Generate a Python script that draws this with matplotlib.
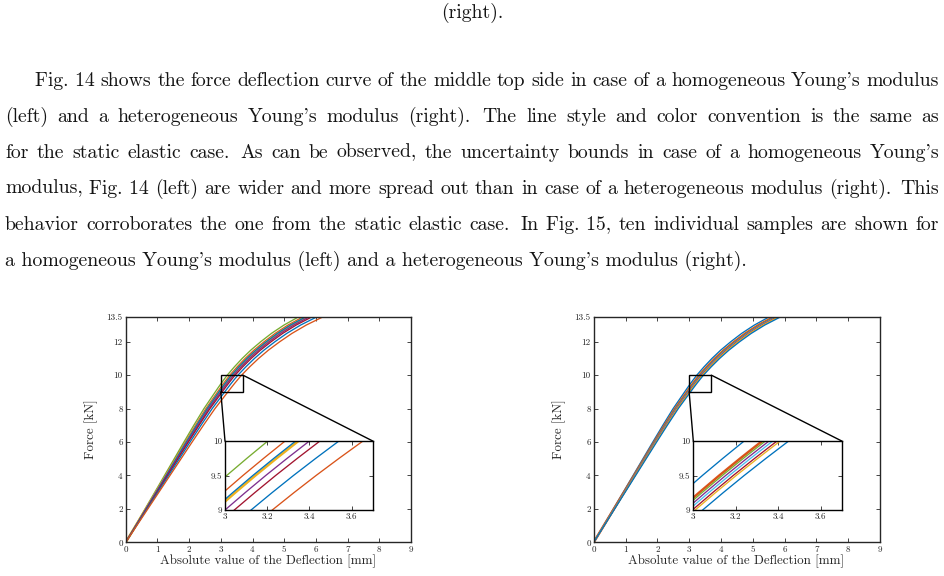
import numpy as np
import matplotlib
matplotlib.use("Agg")
import matplotlib.pyplot as plt
from matplotlib.patches import Rectangle, ConnectionPatch

plt.rcParams["font.family"] = ["cmr10", "DejaVu Serif"]
plt.rcParams["axes.formatter.use_mathtext"] = True
plt.rcParams["mathtext.fontset"] = "cm"
plt.rcParams["axes.unicode_minus"] = False

# ------------------------------------------------------------------ data
# reference force-deflection shape (middle curve)
base_force = [0, 1, 2, 3, 4, 5, 6, 7, 8, 9, 9.25, 9.5, 9.75, 10,
              10.5, 11, 11.5, 12, 12.5, 13, 13.5, 14]
base_defl = [0, 0.325, 0.65, 0.975, 1.30, 1.625, 1.95, 2.28, 2.62, 3.00,
             3.095, 3.193, 3.295, 3.40, 3.64, 3.90, 4.19, 4.52, 4.88,
             5.30, 5.80, 6.38]
base_defl_at_10 = 3.40

# deflection at 10 kN of each plotted curve
left_defl_at_10 = [3.203, 3.285, 3.348, 3.335, 3.400, 3.450, 3.540, 3.654]
left_colors = ["#77AC30", "#D95319", "#EDB120", "#0072BD",
               "#7E2F8E", "#A2142F", "#0072BD", "#D95319"]
left_thick = 2

right_defl_at_10 = [3.240, 3.325, 3.340, 3.357, 3.375, 3.395, 3.410, 3.450]
right_colors = ["#0072BD", "#D95319", "#77AC30", "#7E2F8E",
                "#4DBEEE", "#A2142F", "#EDB120", "#0072BD"]
right_thick = 1

main_xticks = [0, 1, 2, 3, 4, 5, 6, 7, 8, 9]
main_yticks = [0, 2, 4, 6, 8, 10, 12, 13.5]
zoom_xticks = [3, 3.2, 3.4, 3.6]
zoom_yticks = [9, 9.5, 10]
zoom_xlim = (3, 3.7)
zoom_ylim = (9, 10)

x_label = "Absolute value of the Deflection [mm]"
y_label = "Force [kN]"

top_line = "(right)."
paragraph_lines = [
    "Fig.~14 shows the force deflection curve of the middle top side in case of a homogeneous Young's modulus",
    "(left) and a heterogeneous Young's modulus (right).  The line style and color convention is the same as",
    "for the static elastic case.  As can be observed, the uncertainty bounds in case of a homogeneous Young's",
    "modulus, Fig.~14 (left) are wider and more spread out than in case of a heterogeneous modulus (right). This",
    "behavior corroborates the one from the static elastic case. In Fig.~15, ten individual samples are shown for",
    "a homogeneous Young's modulus (left) and a heterogeneous Young's modulus (right).",
]

# ------------------------------------------------------------------ figure
W, H = 944, 576
fig = plt.figure(figsize=(W / 100, H / 100), dpi=100)
fig.patch.set_facecolor("white")
renderer = fig.canvas.get_renderer()
TXT = "#141414"
AX = "#262626"


def fx(x):
    return x / W


def fy(y):
    return 1 - y / H


def px_rect(x0, y0, x1, y1):
    return [x0 / W, 1 - y1 / H, (x1 - x0) / W, (y1 - y0) / H]


def text_width(s, size):
    t = fig.text(0, 0, s, fontsize=size)
    w = t.get_window_extent(renderer).width
    t.remove()
    return w


tick_size = 6.0 * 16.0 / text_width("13.5", 6.0)
label_size = 8.0 * 217.0 / text_width(x_label, 8.0)
body_size = 12.0 * 743.0 / text_width(paragraph_lines[-1].replace("~", " "), 12.0)


def fmt(v):
    return ("%g" % v)


def style(ax):
    ax.tick_params(direction="in", length=2.6, width=0.6, top=True, right=True,
                   labelsize=tick_size, colors=AX, pad=2.2)
    for s in ax.spines.values():
        s.set_linewidth(1.0)
        s.set_color(AX)


panels = [
    dict(main=(125.7, 316.7, 411.0, 542.3), inset=(225.0, 441.0, 372.7, 510.0),
         defl=left_defl_at_10, colors=left_colors, thick=left_thick),
    dict(main=(593.7, 316.7, 880.0, 542.3), inset=(693.3, 441.0, 841.7, 510.0),
         defl=right_defl_at_10, colors=right_colors, thick=right_thick),
]

bf = np.array(base_force)
bd = np.array(base_defl)

for p in panels:
    ax = fig.add_axes(px_rect(*p["main"]))
    axin = fig.add_axes(px_rect(*p["inset"]))
    for a in (ax, axin):
        for i, (d, c) in enumerate(zip(p["defl"], p["colors"])):
            lw = 1.8 if i == p["thick"] else 0.95
            a.plot(bd * d / base_defl_at_10, bf, color=c, lw=lw,
                   solid_capstyle="butt")
    ax.set_xlim(0, 9)
    ax.set_ylim(0, 13.5)
    ax.set_xticks(main_xticks, [fmt(v) for v in main_xticks])
    ax.set_yticks(main_yticks, [fmt(v) for v in main_yticks])
    style(ax)
    axin.set_xlim(*zoom_xlim)
    axin.set_ylim(*zoom_ylim)
    axin.set_xticks(zoom_xticks, [fmt(v) for v in zoom_xticks])
    axin.set_yticks(zoom_yticks, [fmt(v) for v in zoom_yticks])
    style(axin)
    for s in axin.spines.values():
        s.set_color("black")

    ax.add_patch(Rectangle((zoom_xlim[0], zoom_ylim[0]),
                           zoom_xlim[1] - zoom_xlim[0], zoom_ylim[1] - zoom_ylim[0],
                           fill=False, ec="black", lw=1.0, zorder=5))
    for a_pt, b_pt in [((zoom_xlim[0], zoom_ylim[0]), (zoom_xlim[0], zoom_ylim[1])),
                       ((zoom_xlim[1], zoom_ylim[1]), (zoom_xlim[1], zoom_ylim[1]))]:
        con = ConnectionPatch(xyA=a_pt, coordsA=ax.transData,
                              xyB=b_pt, coordsB=axin.transData,
                              color="black", lw=1.0)
        fig.add_artist(con)

    x0, y0, x1, y1 = p["main"]
    fig.text(fx((x0 + x1) / 2 - 0.5), fy(561.5), x_label, fontsize=label_size,
             color=AX, ha="center", va="center")
    fig.text(fx(x0 - 34.5), fy((y0 + y1) / 2), y_label, fontsize=label_size,
             color=AX, ha="center", va="center", rotation=90)

# ------------------------------------------------------------------ text
em = body_size * 100 / 72.0
base_off = 0.28 * em

fig.text(fx(472), fy(12 + base_off), top_line, fontsize=body_size, color=TXT,
         ha="center", va="baseline")

line_centers = [80, 116, 152, 188, 224, 260]
for k, line in enumerate(paragraph_lines):
    yb = line_centers[k] + base_off
    x_left = 35.0 if k == 0 else 5.0
    if k == len(paragraph_lines) - 1:
        fig.text(fx(x_left), fy(yb), line.replace("~", " "), fontsize=body_size,
                 color=TXT, ha="left", va="baseline")
        continue
    words = [w.replace("~", " ") for w in line.split(" ") if w != ""]
    widths = [text_width(w, body_size) for w in words]
    weights = []
    for w in words[:-1]:
        weights.append(1.35 if (w.endswith(".") and not w.endswith("Fig.")) else 1.0)
    free = 939.0 - x_left - sum(widths)
    unit = free / sum(weights)
    x = x_left
    for i, w in enumerate(words):
        fig.text(fx(x), fy(yb), w, fontsize=body_size, color=TXT,
                 ha="left", va="baseline")
        if i < len(weights):
            x += widths[i] + unit * weights[i]

fig.savefig("out.png", dpi=100, facecolor="white")
